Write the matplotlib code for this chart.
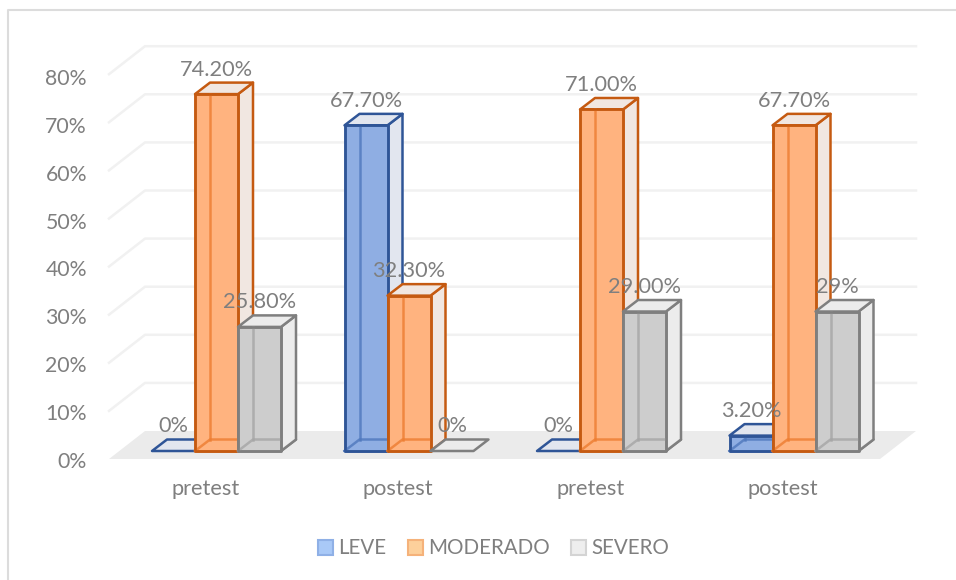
import matplotlib
matplotlib.use("Agg")
import matplotlib.pyplot as plt
from matplotlib.patches import Polygon, Rectangle

plt.rcParams['font.family'] = ['Lato', 'DejaVu Sans']

# data
categories = ["pretest", "postest", "pretest", "postest"]
series_names = ["LEVE", "MODERADO", "SEVERO"]
leve = [0, 67.7, 0, 3.2]
moderado = [74.2, 32.3, 71.0, 67.7]
severo = [25.8, 0, 29.0, 29.0]
leve_labels = ["0%", "67.70%", "0%", "3.20%"]
moderado_labels = ["74.20%", "32.30%", "71.00%", "67.70%"]
severo_labels = ["25.80%", "0%", "29.00%", "29%"]
yticks = [0, 10, 20, 30, 40, 50, 60, 70, 80]

# style
edges = ["#2f5597", "#c55a11", "#7f7f7f"]
inner = ["#4f78bd", "#ed7d31", "#a5a5a5"]
fronts = ["#8faee3", "#ffb37f", "#cdcdcd"]
sides = ["#e2e6ef", "#f1e7e1", "#ececec"]
swatches = ["#a9c9f7", "#fdd09b", "#eeeeee"]
swatch_edges = ["#8fb0e6", "#f5b27a", "#d4d4d4"]
text_color = "#7f7f7f"
fs = 15.7
fs_tick = 15.3
fs_legend = 14.8

W, H = 956, 580
PX_X = 192.5            # pixels per category
PX_Y = 4.81             # pixels per percent
X0, Y0 = 216.5, 451     # category 0, 0% on the front of the bars
BAR = 43 / PX_X
DX, DY = 15 / PX_X, 11.5 / PX_Y
LW = 1.8


def px(x, y):
    # pixel of the picture to data coordinates
    return (x - X0) / PX_X, (Y0 - y) / PX_Y


def poly(ax, pts, fc, ec, lw=LW, z=3):
    ax.add_patch(Polygon(pts, closed=True, fc=fc, ec=ec, lw=lw,
                         joinstyle="round", zorder=z))


def bar3d(ax, x, h, i, z):
    l, r = x, x + BAR
    poly(ax, [(l, 0), (r, 0), (r + DX, DY), (l + DX, DY)], sides[i], edges[i], z=z)
    if h <= 0:
        return
    poly(ax, [(r, 0), (r + DX, DY), (r + DX, h + DY), (r, h)], sides[i], edges[i], z=z)
    poly(ax, [(l, h), (r, h), (r + DX, h + DY), (l + DX, h + DY)], sides[i], edges[i], z=z)
    poly(ax, [(l, 0), (r, 0), (r, h), (l, h)], fronts[i], edges[i], z=z + 0.1)
    # hidden edges showing through the see-through front
    ax.plot([l + DX, l + DX], [DY, h], color=inner[i], lw=LW, alpha=0.8, zorder=z + 0.2)
    ax.plot([l, l + DX, r], [0, DY, DY], color=inner[i], lw=LW, alpha=0.8, zorder=z + 0.2)
    # front drawn again so the hidden edges stay under its outline
    poly(ax, [(l, 0), (r, 0), (r, h), (l, h)], "none", edges[i], z=z + 0.3)


fig = plt.figure(figsize=(W / 100, H / 100), dpi=100)
ax = fig.add_axes([0, 0, 1, 1])
ax.set_xlim(px(0, 0)[0], px(W, 0)[0])
ax.set_ylim(px(0, H)[1], px(0, 0)[1])
ax.axis("off")

# chart frame, only left and top are inside the picture
fx, fy = px(8, 10)
ax.plot([fx, fx, px(W, 0)[0]], [px(0, H)[1], fy, fy], color="#dcdcdc", lw=1.5, zorder=0)

# floor and gridlines, back wall is 28 px above the front of the floor
fl, fr = px(109, 0)[0], px(880, 0)[0]
bl, br = px(145, 0)[0], px(916, 0)[0]
y_front = px(0, 459)[1]
y_back = px(0, 431)[1]
poly(ax, [(fl, y_front), (fr, y_front), (br, y_back), (bl, y_back)], "#ebebeb", "none", lw=0, z=1)
for t in yticks[1:]:
    ax.plot([fl, bl, br], [y_front + t, y_back + t, y_back + t], color="#f1f1f1", lw=1.8, zorder=1)

for t in yticks:
    ax.text(px(87, 0)[0], y_front + t * 0.995 - 0.6, "%d%%" % t, ha="right", va="center",
            color=text_color, fontsize=fs_tick)

# bars, drawn from left to right so later ones cover the side of earlier ones
for c in range(len(categories)):
    for i, vals in enumerate([leve, moderado, severo]):
        x = c + (i - 1.5) * BAR
        bar3d(ax, x, vals[c], i, 3 + c + i * 0.4)

# category labels
for c, name in enumerate(categories):
    ax.text(c - 11 / PX_X, px(0, 489)[1], name, ha="center", va="center",
            color=text_color, fontsize=fs)

# data labels above the back of the bar top
for i, (vals, labs) in enumerate(zip([leve, moderado, severo],
                                     [leve_labels, moderado_labels, severo_labels])):
    for c, (v, lab) in enumerate(zip(vals, labs)):
        x = c + (i - 1) * BAR
        ax.text(x, v + DY + 13 / PX_Y, lab, ha="center", va="center", color=text_color,
                fontsize=fs, zorder=20)

# legend
leg_x = [318, 408, 571]
leg_txt = [338, 428, 591]
for i, name in enumerate(series_names):
    lx, ly = px(leg_x[i], 555)
    rx, ry = px(leg_x[i] + 15, 540)
    ax.add_patch(Rectangle((lx, ly), rx - lx, ry - ly, fc=swatches[i], ec=swatch_edges[i], lw=1.5, zorder=5))
    ax.text(px(leg_txt[i], 0)[0], px(0, 548)[1], name, ha="left", va="center",
            color=text_color, fontsize=fs_legend)

fig.savefig("out.png", dpi=100)
